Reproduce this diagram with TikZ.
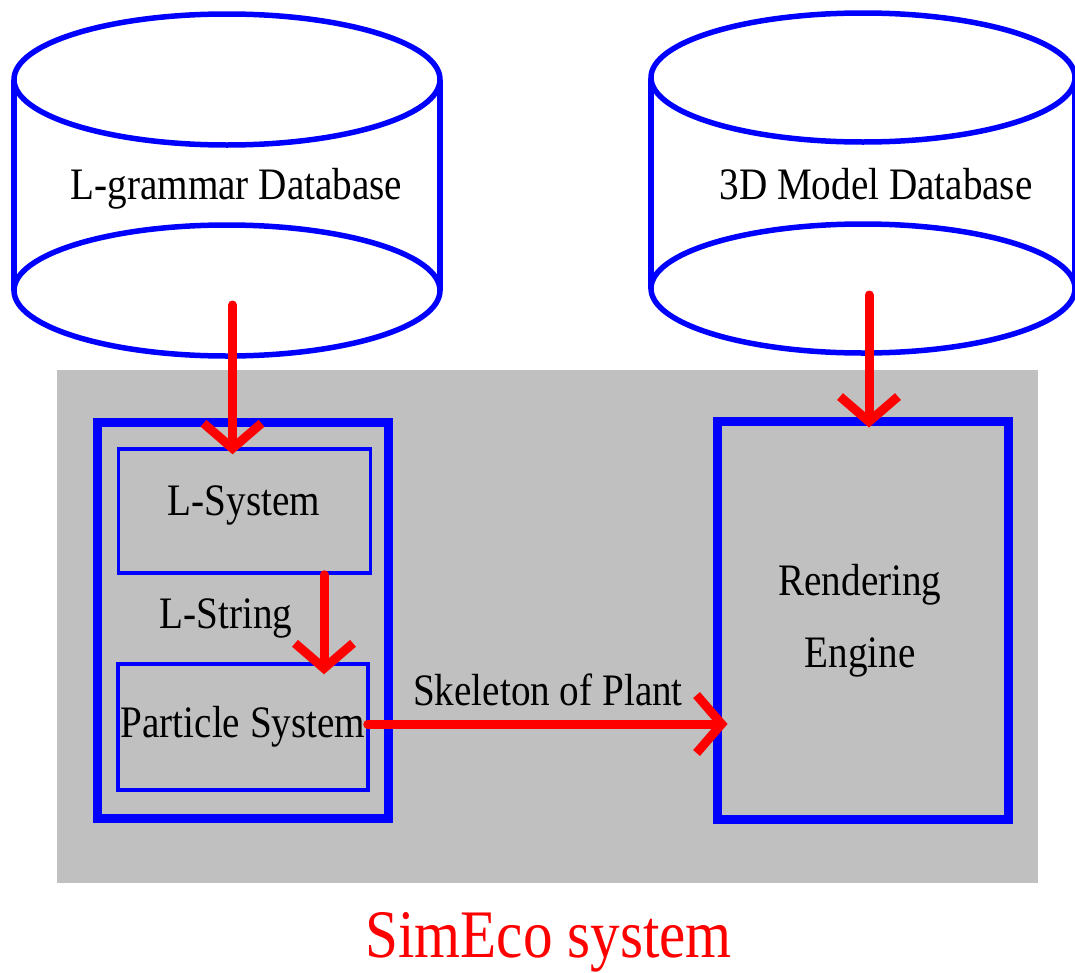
\documentclass[tikz,border=0pt]{standalone}
\usepackage{fontspec}
\setmainfont{Liberation Serif}[FakeStretch=0.87]
\usetikzlibrary{arrows.meta,calc}
\definecolor{panelgray}{RGB}{192,192,192}
\tikzset{
  cyl/.style={draw=blue, line width=5.5pt},
  thickbox/.style={draw=blue, line width=9pt, rectangle, inner sep=0pt},
  thinbox/.style={draw=blue, line width=3.5pt, rectangle, inner sep=0pt},
  lbl/.style={anchor=base, inner sep=0pt, text=black, font=\fontsize{45}{72}\selectfont},
  flow/.style={draw=red, line width=9pt, line cap=round,
    -{Straight Barb[length=25pt, width=58pt, sharp]}}
}
\begin{document}
\begin{tikzpicture}[x=1pt, y=-1pt]
\useasboundingbox (0,0) rectangle (1075,972);
\fill[white] (0,0) rectangle (1075,972);

% database cylinders
\draw[cyl] (14,79.5) -- (14,290.5) (440,79.5) -- (440,290.5);
\draw[cyl] (227,79.5) ellipse [x radius=213pt, y radius=65.5pt];
\draw[cyl] (227,290.5) ellipse [x radius=213pt, y radius=65.5pt];
\node[lbl] (lgdb) at (236.5,199) {L-grammar Database};

\draw[cyl] (651,77.5) -- (651,288.5) (1075,77.5) -- (1075,288.5);
\draw[cyl] (863,77.5) ellipse [x radius=212pt, y radius=64.5pt];
\draw[cyl] (863,288.5) ellipse [x radius=212pt, y radius=64.5pt];
\node[lbl] (mdb) at (876,199) {3D Model Database};

% system panel
\node[fill=panelgray, minimum width=981pt, minimum height=513pt, inner sep=0pt] (panel) at (547.5,626.5) {};

\node[thickbox, minimum width=291pt, minimum height=396pt] (gen) at (242.5,620) {};
\node[thinbox, minimum width=252pt, minimum height=124pt] (lsys) at (244.5,511) {};
\node[thinbox, minimum width=250pt, minimum height=126pt] (pbox) at (243,727) {};
\node[thickbox, minimum width=291pt, minimum height=398pt] (rend) at (862.5,620) {};

\node[lbl] (lsystxt) at (244,515) {L-System};
\node[lbl] (lstr) at (226,628) {L-String};
\node[lbl] (ptxt) at (243,737) {Particle System};
% the base anchor of a two-line node sits on its last line
\node[lbl, align=center] (rtxt) at (860,667) {Rendering\\Engine};
\node[lbl] (skel) at (548,705) {Skeleton of Plant};

\node[anchor=base, inner sep=0pt, text=red, font=\fontsize{68}{80}\selectfont] (title) at (548.5,957) {SimEco system};

% data flow
\coordinate (a1s) at (232.5,305);
\coordinate (a4s) at (869,295);
\coordinate (a2s) at ($(lsys.south)+(79.5,0)$);
\coordinate (a3s) at ($(pbox.east)+(-2,-3)$);
\draw[flow] (a1s) -- ($(a1s |- lsys.north)+(0,7)$);
\draw[flow] (a2s) -- ($(a2s |- pbox.north)+(0,12)$);
\draw[flow] (a3s) -- ($(rend.west |- a3s)+(15,0)$);
\draw[flow] (a4s) -- ($(a4s |- rend.north)+(0,11)$);
\end{tikzpicture}
\end{document}
